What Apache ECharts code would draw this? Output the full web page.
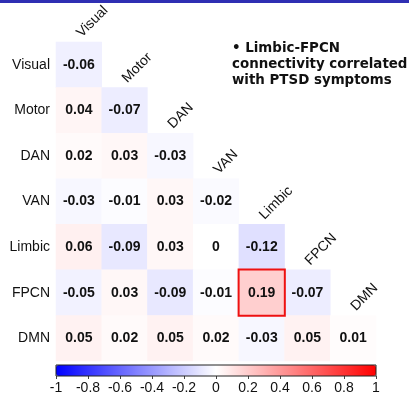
<!DOCTYPE html>
<html>
<head>
<meta charset="utf-8">
<script src="https://cdn.jsdelivr.net/npm/echarts@6/dist/echarts.min.js"></script>
<style>
  html, body { margin: 0; padding: 0; background: #fff; }
  #main { width: 409px; height: 398px; }
</style>
</head>
<body>
<div id="main"></div>
<script>
// network names, same order for rows and columns
let networks = ['Visual', 'Motor', 'DAN', 'VAN', 'Limbic', 'FPCN', 'DMN'];

// lower triangle of the correlation matrix, one array per row
let rowVisual = [-0.06];
let rowMotor = [0.04, -0.07];
let rowDAN = [0.02, 0.03, -0.03];
let rowVAN = [-0.03, -0.01, 0.03, -0.02];
let rowLimbic = [0.06, -0.09, 0.03, 0, -0.12];
let rowFPCN = [-0.05, 0.03, -0.09, -0.01, 0.19, -0.07];
let rowDMN = [0.05, 0.02, 0.05, 0.02, -0.03, 0.05, 0.01];

// colour bar ticks
let barTicks = [-1, -0.8, -0.6, -0.4, -0.2, 0, 0.2, 0.4, 0.6, 0.8, 1];

// highlighted cell (row, column)
let highlight = ['FPCN', 'Limbic'];

let note = '\u2022 Limbic-FPCN\nconnectivity correlated\nwith PTSD symptoms';

let rows = [rowVisual, rowMotor, rowDAN, rowVAN, rowLimbic, rowFPCN, rowDMN];
let cells = [];
let marked = null;
rows.forEach(function (vals, i) {
    vals.forEach(function (v, j) {
        let item = { value: [j, i, v] };
        if (networks[i] === highlight[0] && networks[j] === highlight[1]) {
            item.itemStyle = { borderColor: '#ee1111', borderWidth: 2 };
            marked = item;
        } else {
            cells.push(item);
        }
    });
});
// draw the outlined cell last so its border stays on top
if (marked) cells.push(marked);

let chart = echarts.init(document.getElementById('main'), null, { renderer: 'canvas' });

const option = {
    animation: false,
    textStyle: { fontFamily: '"Liberation Sans", Arial, sans-serif' },
    graphic: [
        {
            type: 'rect',
            left: 0, top: 0,
            shape: { width: 409, height: 3 },
            style: { fill: '#2f2fb3' }
        },
        {
            type: 'text',
            left: 232, top: 41,
            style: {
                text: note,
                fill: '#111',
                font: 'bold 13.4px "DejaVu Sans", sans-serif',
                lineHeight: 16
            }
        }
    ],
    grid: [
        { left: 56, top: 42, width: 320, height: 319 },
        {
            left: 56, top: 365, width: 320, height: 11,
            show: true, z: 10,
            backgroundColor: 'transparent',
            borderColor: '#222', borderWidth: 1
        }
    ],
    xAxis: [
        {
            type: 'category',
            gridIndex: 0,
            data: networks,
            show: false
        },
        {
            type: 'value',
            gridIndex: 1,
            min: -1, max: 1, interval: 0.2,
            axisLine: { show: false },
            axisTick: { show: true, length: 3, lineStyle: { color: '#444' } },
            splitLine: { show: false },
            axisLabel: {
                margin: 5,
                fontSize: 14,
                color: '#111',
                formatter: function (v) {
                    let t = barTicks.find(function (b) { return Math.abs(b - v) < 1e-6; });
                    return t === undefined ? '' : String(t);
                }
            }
        }
    ],
    yAxis: [
        {
            type: 'category',
            gridIndex: 0,
            data: networks,
            inverse: true,
            axisLine: { show: false },
            axisTick: { show: false },
            splitLine: { show: false },
            axisLabel: { fontSize: 14, color: '#111', margin: 6 }
        },
        {
            type: 'value',
            gridIndex: 1,
            show: false
        }
    ],
    visualMap: {
        type: 'continuous',
        min: -1, max: 1,
        seriesIndex: 0,
        orient: 'horizontal',
        left: 56, top: 365,
        itemWidth: 11,
        itemHeight: 320,
        padding: 0,
        calculable: false,
        text: ['', ''],
        hoverLink: false,
        inRange: { color: ['#0000ff', '#ffffff', '#ff0000'] }
    },
    series: [
        {
            type: 'heatmap',
            xAxisIndex: 0,
            yAxisIndex: 0,
            data: cells,
            label: {
                show: true,
                fontSize: 14,
                fontWeight: 'bold',
                color: '#111',
                formatter: function (p) { return String(p.value[2]); }
            },
            emphasis: { disabled: true }
        },
        {
            // rotated column names sitting on the diagonal
            type: 'custom',
            xAxisIndex: 0,
            yAxisIndex: 0,
            clip: false,
            silent: true,
            data: networks.map(function (n, j) { return [j, j]; }),
            renderItem: function (params, api) {
                let p = api.coord([api.value(0), api.value(1)]);
                let size = api.size([1, 1]);
                return {
                    type: 'text',
                    x: p[0] + 5,
                    y: p[1] - size[1] / 2 - 2,
                    rotation: Math.PI / 4,
                    style: {
                        text: networks[params.dataIndex],
                        fill: '#111',
                        font: '14px "Liberation Sans", Arial, sans-serif',
                        textAlign: 'left',
                        textVerticalAlign: 'bottom'
                    }
                };
            }
        }
    ]
};
chart.setOption(option);
</script>
</body>
</html>
